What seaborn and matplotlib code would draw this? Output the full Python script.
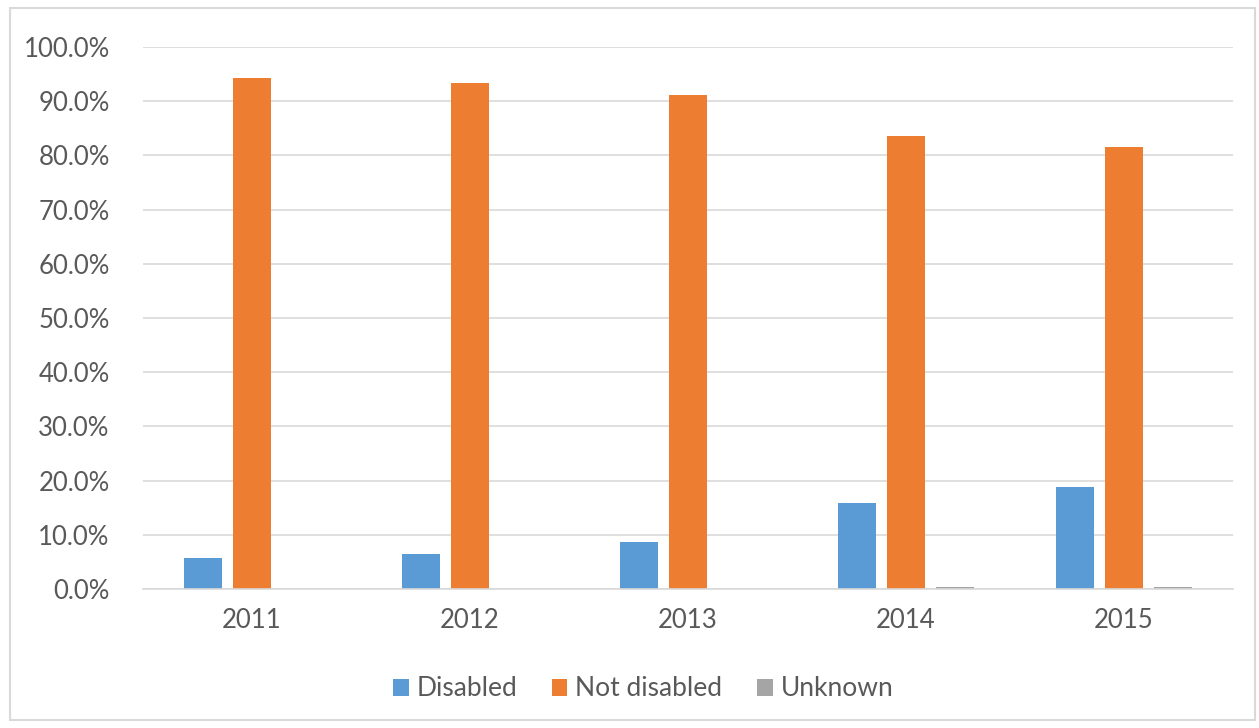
import matplotlib
matplotlib.use("Agg")
import matplotlib.pyplot as plt
from matplotlib.patches import Rectangle
from matplotlib.ticker import FuncFormatter, MultipleLocator
import pandas as pd
import seaborn as sns

years = ["2011", "2012", "2013", "2014", "2015"]
series_names = ["Disabled", "Not disabled", "Unknown"]
disabled = [5.8, 6.4, 8.6, 15.9, 18.8]
not_disabled = [94.2, 93.3, 91.2, 83.5, 81.5]
unknown = [0.0, 0.0, 0.0, 0.4, 0.4]
colors = ["#5B9BD5", "#ED7D31", "#A5A5A5"]

rows = []
for name, vals in zip(series_names, [disabled, not_disabled, unknown]):
    for y, v in zip(years, vals):
        rows.append({"Year": y, "Status": name, "Share": v})
df = pd.DataFrame(rows)

sns.set_theme(style="white")
plt.rcParams["font.family"] = ["Lato", "DejaVu Sans"]
text_color = "#595959"

fig = plt.figure(figsize=(12.59, 7.28), dpi=100)
ax = fig.add_axes([143 / 1259, 1 - 589 / 728, (1233 - 143) / 1259, (589 - 47) / 728])

sns.barplot(data=df, x="Year", y="Share", hue="Status", hue_order=series_names,
            palette=colors, saturation=1, width=0.675, gap=0.22, ax=ax, legend=True,
            linewidth=0)

ax.set_ylim(0, 100)
ax.yaxis.set_major_locator(MultipleLocator(10))
ax.yaxis.set_major_formatter(FuncFormatter(lambda v, p: f"{v:.1f}%"))
ax.grid(axis="y", color="#D9D9D9", linewidth=1.2)
ax.set_axisbelow(True)
for s in ["left", "right", "top"]:
    ax.spines[s].set_visible(False)
ax.spines["bottom"].set_color("#D9D9D9")
ax.spines["bottom"].set_linewidth(1.2)
ax.set_xlabel("")
ax.set_ylabel("")
ax.tick_params(axis="both", length=0, labelsize=18.5, colors=text_color)
ax.tick_params(axis="x", pad=14)
ax.tick_params(axis="y", pad=24)

handles, labels = ax.get_legend_handles_labels()
ax.get_legend().remove()
leg = fig.legend(handles, labels, loc="center", bbox_to_anchor=(643 / 1259, 1 - 689 / 728),
                 ncol=3, frameon=False, fontsize=19, handlelength=0.6, handleheight=0.6,
                 handletextpad=0.3, columnspacing=1.3)
for t in leg.get_texts():
    t.set_color(text_color)

fig.patches.append(Rectangle((10 / 1259, 8 / 728), 1245 / 1259, 712 / 728,
                             transform=fig.transFigure, fill=False,
                             edgecolor="#D9D9D9", linewidth=1.5))

fig.savefig("out.png", dpi=100)
